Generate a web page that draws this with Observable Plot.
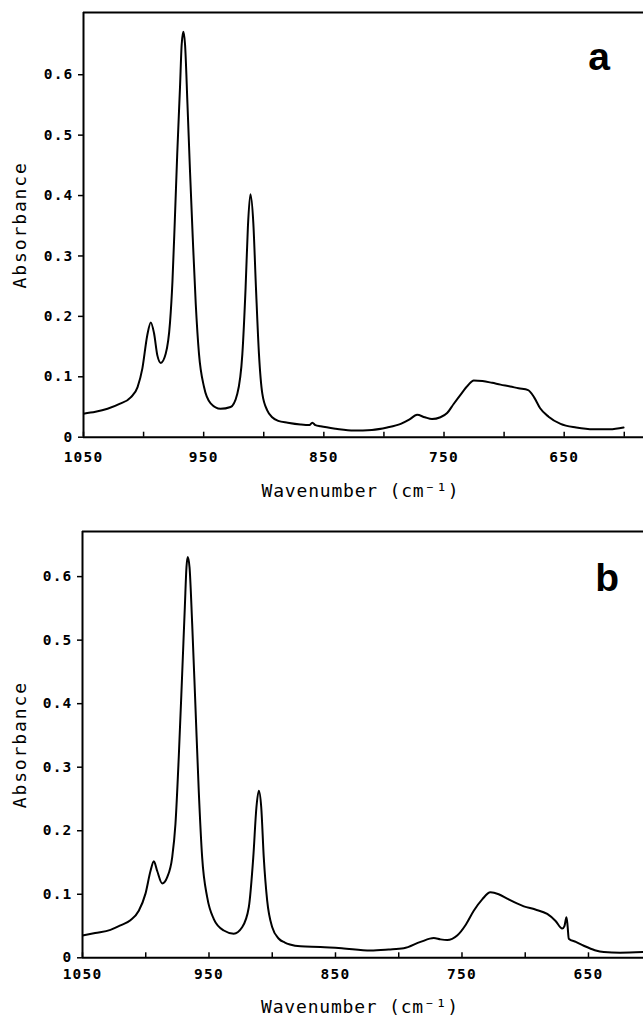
<!DOCTYPE html>
<html><head><meta charset="utf-8">
<script src="https://cdn.jsdelivr.net/npm/d3@7"></script>
<script src="https://cdn.jsdelivr.net/npm/@observablehq/plot@0.6"></script>
<style>
body{margin:0;background:#fff;}
#chart{width:643px;}
#chart svg{display:block;}
</style></head><body><div id="chart"></div>
<script>
// Panel a spectrum
const waveA = [1050, 1040, 1030, 1020, 1010.7, 1005, 1001, 997, 994, 991.3, 988.5, 985.7, 981.6, 978, 976, 974, 972, 969.7, 968.3, 966.9, 965.5, 963.5, 961.4, 959.1, 956.6, 953.9, 949.7, 944.2, 936, 927.6, 922, 917.8, 915.1, 913.2, 911.1, 908.7, 906.5, 904, 901.2, 897, 893, 888, 880, 869.4, 862, 859.6, 857, 852.7, 840, 825, 810, 797.3, 786, 779, 772.4, 766, 760, 753, 747.4, 742, 736, 730, 725.3, 718, 710, 703, 695, 688, 680, 675, 670, 663, 653, 640, 625.5, 612, 600.6];
const absA = [0.039, 0.042, 0.047, 0.055, 0.066, 0.083, 0.114, 0.168, 0.190, 0.172, 0.135, 0.123, 0.138, 0.190, 0.257, 0.359, 0.469, 0.579, 0.650, 0.671, 0.650, 0.552, 0.442, 0.331, 0.221, 0.138, 0.083, 0.056, 0.047, 0.050, 0.072, 0.138, 0.248, 0.348, 0.402, 0.355, 0.248, 0.138, 0.072, 0.044, 0.033, 0.027, 0.024, 0.021, 0.020, 0.024, 0.020, 0.018, 0.014, 0.011, 0.012, 0.016, 0.022, 0.029, 0.037, 0.033, 0.030, 0.033, 0.040, 0.055, 0.071, 0.086, 0.094, 0.093, 0.090, 0.087, 0.084, 0.081, 0.078, 0.066, 0.048, 0.034, 0.022, 0.016, 0.013, 0.013, 0.016];
// Panel b spectrum
const waveB = [1050, 1040, 1027.9, 1020, 1012.1, 1005.5, 1000.2, 996.2, 993.6, 991, 987, 983, 979.1, 976.5, 973.9, 971.2, 969.1, 967.8, 966.8, 965.4, 963.3, 960.7, 958.1, 955.4, 951.4, 946.2, 938.3, 930.4, 923.8, 918.5, 915, 912.5, 910.6, 908.7, 906.7, 904, 900, 894.8, 890, 886, 877.7, 861.9, 845, 822.3, 808, 796, 782.8, 772.3, 767, 761.7, 753.8, 747, 740.7, 734, 727.5, 721, 714.3, 701.1, 692, 682.6, 676, 670.8, 669, 667.4, 666.5, 665.6, 660, 653.7, 645, 637.9, 625, 606.5];
const absB = [0.035, 0.039, 0.044, 0.051, 0.059, 0.074, 0.101, 0.137, 0.152, 0.137, 0.117, 0.127, 0.158, 0.211, 0.316, 0.447, 0.552, 0.615, 0.631, 0.615, 0.526, 0.395, 0.263, 0.158, 0.095, 0.061, 0.043, 0.038, 0.048, 0.080, 0.158, 0.237, 0.263, 0.237, 0.158, 0.090, 0.048, 0.030, 0.024, 0.021, 0.018, 0.017, 0.015, 0.0115, 0.013, 0.015, 0.025, 0.031, 0.029, 0.028, 0.035, 0.052, 0.074, 0.092, 0.103, 0.100, 0.093, 0.081, 0.076, 0.069, 0.058, 0.046, 0.050, 0.064, 0.050, 0.030, 0.025, 0.019, 0.012, 0.009, 0.008, 0.009];

const majorTicks = [1050, 950, 850, 750, 650];
const minorTicks = [1000, 900, 800, 700, 600];
const yTicks = [0, 0.1, 0.2, 0.3, 0.4, 0.5, 0.6];
const panelLabels = ["a", "b"];
const xLabel = "Wavenumber (cm\u207B\u00B9)";
const yLabel = "Absorbance";

const panels = [
  {wave: waveA, abs: absA, label: panelLabels[0], height: 500, mt: 12, mb: 63.3, ml: 83, xEnd: 584, yMax: 0.703, tickPad: 15, xlDy: 60, lDx: -44.3, lDy: 57},
  {wave: waveB, abs: absB, label: panelLabels[1], height: 517, mt: 31, mb: 59.7, ml: 82, xEnd: 606.5, yMax: 0.671, tickPad: 11, xlDy: 55.5, lDx: -36.3, lDy: 59.7}
];

const chart = document.getElementById("chart");
for (const p of panels) {
  const data = p.wave.map((w, i) => ({w, a: p.abs[i]}));
  const innerH = p.height - p.mt - p.mb;
  const svg = Plot.plot({
    width: 643,
    height: p.height,
    marginTop: p.mt,
    marginBottom: p.mb,
    marginLeft: p.ml,
    marginRight: 0,
    style: {fontFamily: "DejaVu Sans Mono", fontSize: "14.5px", fontWeight: "bold", color: "#000", background: "#fff", letterSpacing: "1.2px"},
    x: {domain: [1050, p.xEnd]},
    y: {domain: [0, p.yMax]},
    marks: [
      Plot.ruleY([0], {stroke: "#000", strokeWidth: 2}),
      Plot.ruleY([p.yMax], {stroke: "#000", strokeWidth: 2}),
      Plot.ruleX([1050], {stroke: "#000", strokeWidth: 2}),
      Plot.tickX([...majorTicks, ...minorTicks], {x: d => d, insetTop: innerH - 5, stroke: "#000", strokeWidth: 1.5}),
      Plot.axisX({ticks: majorTicks, tickSize: 0, tickPadding: p.tickPad, tickFormat: d => String(d), label: null}),
      Plot.axisY({ticks: yTicks, tickSize: 5, tickPadding: 5, strokeWidth: 1.5, tickFormat: d => d === 0 ? "0" : d.toFixed(1), label: null}),
      Plot.line(data, {x: "w", y: "a", curve: "monotone-x", stroke: "#000", strokeWidth: 2, clip: true}),
      Plot.text([p.label], {text: d => d, frameAnchor: "top-right", dx: p.lDx, dy: p.lDy, lineAnchor: "bottom", textAnchor: "middle", fontFamily: "Liberation Sans", fontWeight: "bold", fontSize: 39}),
      Plot.text([yLabel], {text: d => d, frameAnchor: "left", dx: p.ml === 83 ? -63 : -62, rotate: -90, textAnchor: "middle", lineAnchor: "middle", fontSize: 18, fontWeight: "normal"}),
      Plot.text([xLabel], {text: d => d, frameAnchor: "bottom", dx: -3, dy: p.xlDy, lineAnchor: "bottom", textAnchor: "middle", fontSize: 18, fontWeight: "normal"})
    ]
  });
  chart.appendChild(svg);
  d3.select(svg).selectAll("text").each(function() {
    const t = d3.select(this);
    const s = this.textContent;
    if (s === xLabel) {
      t.style("letter-spacing", "0.8px");
    } else if (s === yLabel) {
      t.style("letter-spacing", "1.9px");
    } else if (panelLabels.includes(s)) {
      t.style("letter-spacing", "0px");
    }
  });
}
</script></body></html>
